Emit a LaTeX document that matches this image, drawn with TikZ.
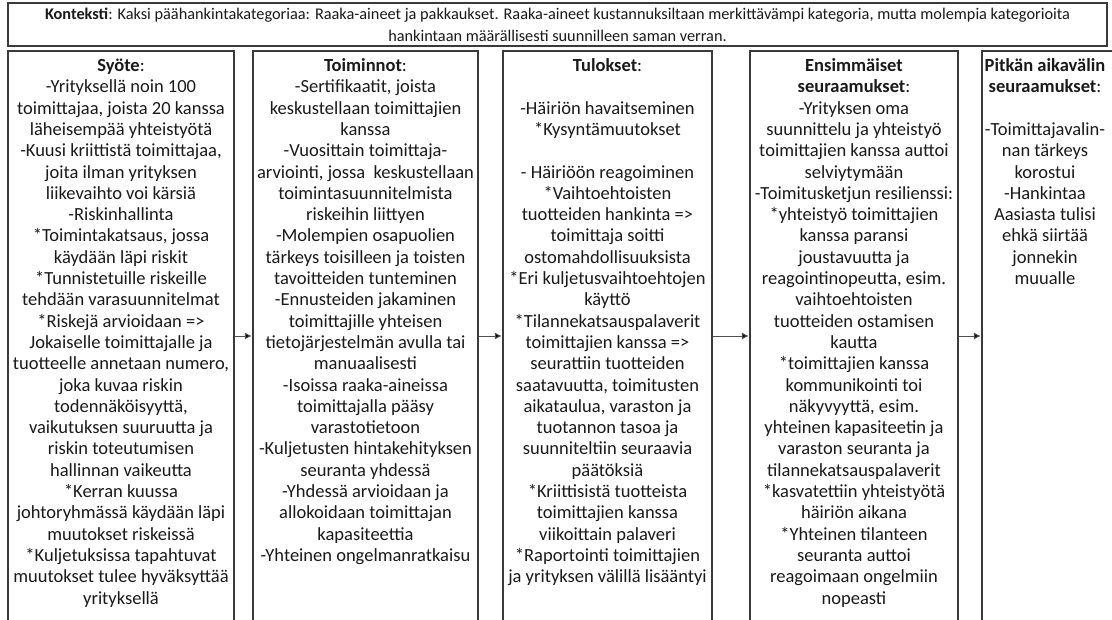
\documentclass[tikz,border=0pt]{standalone}
\usepackage{fontspec}
\setmainfont{Carlito}
\usetikzlibrary{arrows.meta}
\definecolor{linegray}{HTML}{3A3A3A}
\definecolor{arrowgray}{HTML}{505050}
\definecolor{textblack}{HTML}{1A1A1A}
\newcommand{\bodyfnt}{\fontsize{18.5}{21.3}\selectfont}
\begin{document}
\begin{tikzpicture}[x=1pt,y=1pt,
  colbox/.style={draw=linegray, line width=1.2pt, inner sep=0pt, minimum height=570pt},
  coltext/.style={anchor=north, align=center, inner sep=0pt, text=textblack, font=\bodyfnt},
  arr/.style={draw=arrowgray, line width=0.9pt, -{Latex[length=7pt,width=7pt,fill=black]}, shorten >=0.6pt}]
\useasboundingbox (0,0) rectangle (1112,619);
\fill[white] (0,0) rectangle (1112,619);

% context box
\node[draw=linegray, line width=1.2pt, minimum width=1099pt, minimum height=43pt,
      inner sep=0pt, align=center, text=textblack, font=\fontsize{16.3}{22}\selectfont] (ctx) at (557.5,594.5)
  {\textbf{Konteksti}: Kaksi päähankintakategoriaa: Raaka-aineet ja pakkaukset. Raaka-aineet kustannuksiltaan merkittävämpi kategoria, mutta molempia kategorioita\\
   hankintaan määrällisesti suunnilleen saman verran.};

% column boxes
\node[colbox, minimum width=226pt] (s1) at (121,283) {};
\node[colbox, minimum width=225pt] (s2) at (365.5,283) {};
\node[colbox, minimum width=209pt] (s3) at (607.5,283) {};
\node[colbox, minimum width=208pt] (s4) at (854,283) {};
\node[colbox, minimum width=134pt] (s5) at (1049,283) {};

% column texts
\node[coltext] (t1) at ([yshift=-6pt]s1.north) {\strut\textbf{Syöte}:\\
-Yrityksellä noin 100\\
toimittajaa, joista 20 kanssa\\
läheisempää yhteistyötä\\
-Kuusi kriittistä toimittajaa,\\
joita ilman yrityksen\\
liikevaihto voi kärsiä\\
-Riskinhallinta\\
*Toimintakatsaus, jossa\\
käydään läpi riskit\\
*Tunnistetuille riskeille\\
tehdään varasuunnitelmat\\
*Riskejä arvioidaan =>\\
Jokaiselle toimittajalle ja\\
tuotteelle annetaan numero,\\
joka kuvaa riskin\\
todennäköisyyttä,\\
vaikutuksen suuruutta ja\\
riskin toteutumisen\\
hallinnan vaikeutta\\
*Kerran kuussa\\
johtoryhmässä käydään läpi\\
muutokset riskeissä\\
*Kuljetuksissa tapahtuvat\\
muutokset tulee hyväksyttää\\
yrityksellä};

\node[coltext] (t2) at ([yshift=-6pt]s2.north) {\strut\textbf{Toiminnot}:\\
-Sertifikaatit, joista\\
keskustellaan toimittajien\\
kanssa\\
-Vuosittain toimittaja-\\
arviointi, jossa~ keskustellaan\\
toimintasuunnitelmista\\
riskeihin liittyen\\
-Molempien osapuolien\\
tärkeys toisilleen ja toisten\\
tavoitteiden tunteminen\\
-Ennusteiden jakaminen\\
toimittajille yhteisen\\
tietojärjestelmän avulla tai\\
manuaalisesti\\
-Isoissa raaka-aineissa\\
toimittajalla pääsy\\
varastotietoon\\
-Kuljetusten hintakehityksen\\
seuranta yhdessä\\
-Yhdessä arvioidaan ja\\
allokoidaan toimittajan\\
kapasiteettia\\
-Yhteinen ongelmanratkaisu};

\node[coltext] (t3) at ([yshift=-6pt]s3.north) {\strut\textbf{Tulokset}:\\
\strut\\
-Häiriön havaitseminen\\
*Kysyntämuutokset\\
\strut\\
- Häiriöön reagoiminen\\
*Vaihtoehtoisten\\
tuotteiden hankinta =>\\
toimittaja soitti\\
ostomahdollisuuksista\\
*Eri kuljetusvaihtoehtojen\\
käyttö\\
*Tilannekatsauspalaverit\\
toimittajien kanssa =>\\
seurattiin tuotteiden\\
saatavuutta, toimitusten\\
aikataulua, varaston ja\\
tuotannon tasoa ja\\
suunniteltiin seuraavia\\
päätöksiä\\
*Kriittisistä tuotteista\\
toimittajien kanssa\\
viikoittain palaveri\\
*Raportointi toimittajien\\
ja yrityksen välillä lisääntyi};

\node[coltext] (t4) at ([yshift=-6pt]s4.north) {\strut\textbf{Ensimmäiset}\\
\textbf{seuraamukset}:\\
-Yrityksen oma\\
suunnittelu ja yhteistyö\\
toimittajien kanssa auttoi\\
selviytymään\\
-Toimitusketjun resilienssi:\\
*yhteistyö toimittajien\\
kanssa paransi\\
joustavuutta ja\\
reagointinopeutta, esim.\\
vaihtoehtoisten\\
tuotteiden ostamisen\\
kautta\\
*toimittajien kanssa\\
kommunikointi toi\\
näkyvyyttä, esim.\\
yhteinen kapasiteetin ja\\
varaston seuranta ja\\
tilannekatsauspalaverit\\
*kasvatettiin yhteistyötä\\
häiriön aikana\\
*Yhteinen tilanteen\\
seuranta auttoi\\
reagoimaan ongelmiin\\
nopeasti};

\node[coltext] (t5) at ([yshift=-6pt,xshift=-4pt]s5.north) {\strut\textbf{Pitkän aikavälin}\\
\textbf{seuraamukset}:\\
\strut\\
-Toimittajavalin-\\
nan tärkeys\\
korostui\\
-Hankintaa\\
Aasiasta tulisi\\
ehkä siirtää\\
jonnekin\\
muualle};

% connectors
\draw[arr] (s1.east) -- (s2.west);
\draw[arr] (s2.east) -- (s3.west);
\draw[arr] (s3.east) -- (s4.west);
\draw[arr] (s4.east) -- (s5.west);
\end{tikzpicture}
\end{document}
